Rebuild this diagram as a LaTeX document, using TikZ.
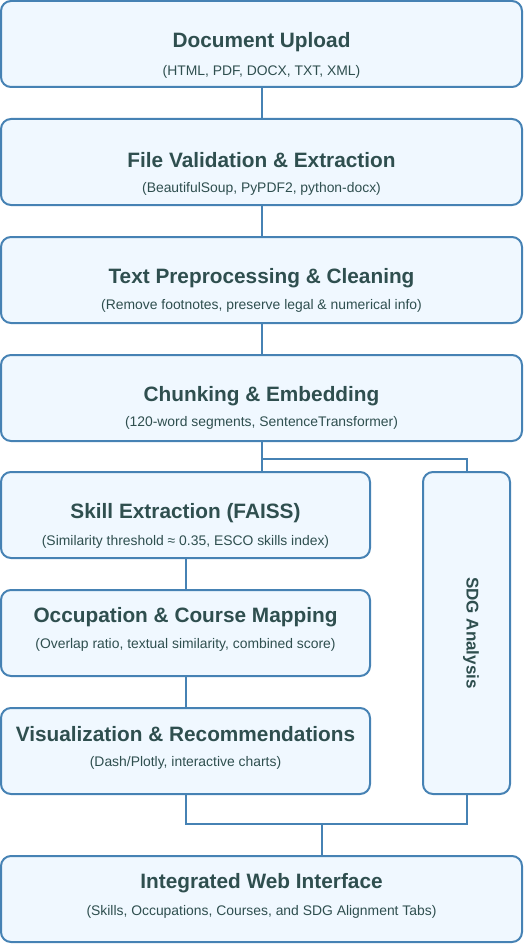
\documentclass[tikz,border=0pt]{standalone}
\usepackage{fontspec}
\setmainfont{Liberation Sans}
\definecolor{BorderColor}{RGB}{70,130,180}
\definecolor{BoxColor}{RGB}{240,248,255}
\definecolor{TextColor}{RGB}{47,79,79}
\usepackage{tikz}
\usetikzlibrary{positioning}
\usetikzlibrary{calc}
\tikzstyle{stage} = [draw=BorderColor, line width=2pt, fill=BoxColor, rounded corners=10pt, inner sep=0pt]
\tikzstyle{ttl} = [text=TextColor, font=\fontsize{20.8}{24}\selectfont\bfseries, inner sep=0pt]
\tikzstyle{sub} = [text=TextColor, font=\fontsize{13.9}{16}\selectfont, inner sep=0pt]
\tikzstyle{link} = [draw=BorderColor, line width=2pt]

\begin{document}
\begin{tikzpicture}[x=1pt, y=-1pt]
                \useasboundingbox (0,0) rectangle (524,944);

                % full-width stages
                \node[stage, minimum width=521, minimum height=86] (upload) at (261.5,44) {};
                \node[stage, minimum width=521, minimum height=86] (extract) at (261.5,162) {};
                \node[stage, minimum width=521, minimum height=86] (clean) at (261.5,280) {};
                \node[stage, minimum width=521, minimum height=86] (chunk) at (261.5,398) {};

                % left column and side branch
                \node[stage, minimum width=369, minimum height=86] (skill) at (185.5,515) {};
                \node[stage, minimum width=369, minimum height=86] (occup) at (185.5,633) {};
                \node[stage, minimum width=369, minimum height=86] (visual) at (185.5,751) {};
                \node[stage, minimum width=87, minimum height=322] (sdg) at (466.5,633) {};

                \node[stage, minimum width=521, minimum height=86] (web) at (261.5,899) {};

                % texts
                \node[ttl] (upload-t) at (261.5,42) {Document Upload};
                \node[sub] (upload-s) at (261.5,72) {(HTML, PDF, DOCX, TXT, XML)};
                \node[ttl] (extract-t) at (261.5,160) {File Validation \& Extraction};
                \node[sub] (extract-s) at (261.5,189) {(BeautifulSoup, PyPDF2, python-docx)};
                \node[ttl] (clean-t) at (261.5,278) {Text Preprocessing \& Cleaning};
                \node[sub] (clean-s) at (261.5,306) {(Remove footnotes, preserve legal \& numerical info)};
                \node[ttl] (chunk-t) at (261.5,396) {Chunking \& Embedding};
                \node[sub] (chunk-s) at (261.5,423) {(120-word segments, SentenceTransformer)};
                \node[ttl] (skill-t) at (185.5,513) {Skill Extraction (FAISS)};
                \node[sub] (skill-s) at (185.5,542) {(Similarity threshold ≈ 0.35, ESCO skills index)};
                \node[ttl] (occup-t) at (185.5,617) {Occupation \& Course Mapping};
                \node[sub] (occup-s) at (185.5,645) {(Overlap ratio, textual similarity, combined score)};
                \node[ttl] (visual-t) at (185.5,734) {Visualization \& Recommendations};
                \node[sub] (visual-s) at (185.5,763) {(Dash/Plotly, interactive charts)};
                \node[ttl, font=\fontsize{17}{20}\selectfont\bfseries, rotate=-90] (sdg-t) at (471,633) {SDG Analysis};
                \node[ttl] (web-t) at (261.5,883) {Integrated Web Interface};
                \node[sub] (web-s) at (261.5,912) {(Skills, Occupations, Courses, and SDG Alignment Tabs)};

                % connectors
                \coordinate (split) at (261.5,459);
                \coordinate (merge) at (322,824);
                \draw[link] (upload) -- (extract);
                \draw[link] (extract) -- (clean);
                \draw[link] (clean) -- (chunk);
                \draw[link] (chunk.south) -- (split |- skill.north);
                \draw[link] (split) -| (sdg.north);
                \draw[link] (skill) -- (occup);
                \draw[link] (occup) -- (visual);
                \draw[link] (visual.south) |- (merge) -| (sdg.south);
                \draw[link] (merge) -- (merge |- web.north);
            \end{tikzpicture}
\end{document}
